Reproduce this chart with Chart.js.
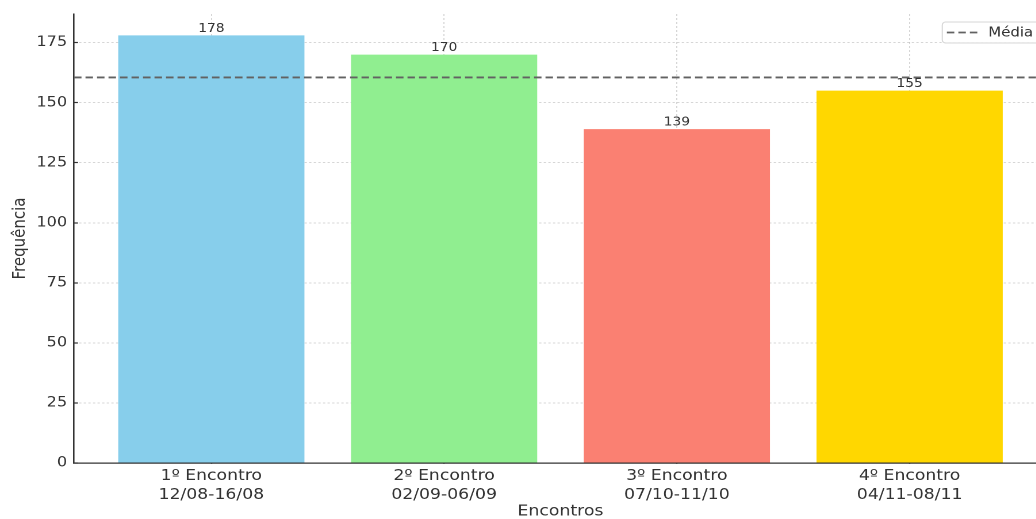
<!DOCTYPE html>
<html lang="pt">
<head>
<meta charset="utf-8">
<title>Frequência por Encontro</title>
<script src="https://cdn.jsdelivr.net/npm/chart.js@4.4.1/dist/chart.umd.min.js"></script>
<style>
  html, body { margin: 0; padding: 0; background: #ffffff; overflow: hidden; width: 1036px; height: 519px; }
  #wrap { position: absolute; left: 0; top: 0; width: 922px; height: 519px; transform: scaleX(1.15); transform-origin: 0 0; }
  canvas { display: block; }
</style>
</head>
<body>
<div id="wrap"><canvas id="chart" width="922" height="519"></canvas></div>
<script>
// Encontros e frequência registrada em cada um
const encontros = ["1º Encontro", "2º Encontro", "3º Encontro", "4º Encontro"];
const periodos = ["12/08-16/08", "02/09-06/09", "07/10-11/10", "04/11-08/11"];
const frequencia = [178, 170, 139, 155];
const cores = ["#87CEEB", "#90EE90", "#FA8072", "#FFD700"];
const yTicks = [0, 25, 50, 75, 100, 125, 150, 175];

const media = frequencia.reduce((a, b) => a + b, 0) / frequencia.length;
const xMin = -0.59, xMax = 3.59, yMax = 186.9;
const FONT = "'DejaVu Sans', 'Liberation Sans', sans-serif";
const TEXT = "#333333";

// Valor escrito acima de cada barra
const rotulosBarras = {
  id: "rotulosBarras",
  afterDatasetsDraw(chart) {
    const meta = chart.getDatasetMeta(1);
    const ctx = chart.ctx;
    ctx.save();
    ctx.font = "12px " + FONT;
    ctx.fillStyle = TEXT;
    ctx.textAlign = "center";
    ctx.textBaseline = "alphabetic";
    meta.data.forEach((bar, i) => {
      ctx.fillText(String(frequencia[i]), bar.x, bar.y - 3.5);
    });
    ctx.restore();
  }
};

// Legenda com moldura no canto superior direito
const legendaMedia = {
  id: "legendaMedia",
  afterDraw(chart) {
    const ds = chart.data.datasets[0];
    const ctx = chart.ctx;
    const area = chart.chartArea;
    ctx.save();
    ctx.font = "13px " + FONT;
    const tw = ctx.measureText(ds.label).width;
    const right = area.right - 6;
    const top = area.top + 8;
    const h = 21;
    const textX = right - 6 - tw;
    const lineEnd = textX - 8;
    const lineStart = lineEnd - 28;
    const left = lineStart - 4;
    ctx.fillStyle = "rgba(255,255,255,0.85)";
    ctx.strokeStyle = "#d6d6d6";
    ctx.lineWidth = 1;
    ctx.beginPath();
    ctx.roundRect(left, top, right - left, h, 3);
    ctx.fill();
    ctx.stroke();
    const cy = top + h / 2;
    ctx.strokeStyle = ds.borderColor;
    ctx.lineWidth = ds.borderWidth;
    ctx.setLineDash(ds.borderDash);
    ctx.beginPath();
    ctx.moveTo(lineStart, cy);
    ctx.lineTo(lineEnd, cy);
    ctx.stroke();
    ctx.setLineDash([]);
    ctx.fillStyle = TEXT;
    ctx.textAlign = "left";
    ctx.textBaseline = "middle";
    ctx.fillText(ds.label, textX, cy + 0.5);
    ctx.restore();
  }
};

new Chart(document.getElementById("chart"), {
  type: "bar",
  data: {
    datasets: [
      {
        type: "line",
        label: "Média",
        data: [{ x: xMin, y: media }, { x: xMax, y: media }],
        borderColor: "#626262",
        borderWidth: 1.8,
        borderDash: [6.5, 3.5],
        pointRadius: 0,
        fill: false
      },
      {
        label: "Frequência",
        data: frequencia.map((v, i) => ({ x: i, y: v })),
        backgroundColor: cores,
        borderWidth: 0,
        categoryPercentage: 1.0,
        barPercentage: 0.8
      }
    ]
  },
  options: {
    responsive: false,
    animation: false,
    devicePixelRatio: 2,
    layout: { padding: { top: 14, right: 11.6, left: 0, bottom: 0 } },
    plugins: {
      legend: { display: false },
      tooltip: { enabled: false }
    },
    scales: {
      x: {
        type: "linear",
        min: xMin,
        max: xMax,
        offset: false,
        z: 1,
        afterBuildTicks(scale) { scale.ticks = encontros.map((_, i) => ({ value: i })); },
        afterFit(scale) {
          scale.height = 56;
          scale.paddingLeft = 0;
          scale.paddingRight = 0;
        },
        grid: {
          offset: false,
          color: "rgba(120,120,120,0.3)",
          lineWidth: 1,
          drawTicks: true,
          tickLength: -3.5,
          tickColor: "#333333",
          tickWidth: 1.2
        },
        border: { display: true, color: "#333333", width: 1.3, dash: [2, 2] },
        ticks: {
          autoSkip: false,
          maxRotation: 0,
          padding: 7,
          color: TEXT,
          font: { family: FONT, size: 15, lineHeight: 1.27 },
          callback: (value) => [encontros[value], periodos[value]]
        },
        title: {
          display: true,
          text: "Encontros",
          color: TEXT,
          font: { family: FONT, size: 15, lineHeight: 1 },
          padding: { top: 0, bottom: 0 }
        }
      },
      y: {
        type: "linear",
        min: 0,
        max: yMax,
        z: 1,
        afterBuildTicks(scale) { scale.ticks = yTicks.map(v => ({ value: v })); },
        afterFit(scale) {
          scale.width = 64.35;
          scale.paddingTop = 0;
          scale.paddingBottom = 0;
        },
        grid: {
          color: "rgba(120,120,120,0.3)",
          lineWidth: 1,
          drawTicks: true,
          tickLength: -3.5,
          tickColor: "#333333",
          tickWidth: 1.2
        },
        border: { display: true, color: "#333333", width: 1.3, dash: [2, 2] },
        ticks: {
          padding: 9.5,
          color: TEXT,
          font: { family: FONT, size: 14 }
        },
        title: {
          display: true,
          text: "Frequência",
          color: TEXT,
          font: { family: FONT, size: 15, lineHeight: 1 },
          padding: { top: 10, bottom: 0 }
        }
      }
    }
  },
  plugins: [rotulosBarras, legendaMedia]
});
</script>
</body>
</html>
